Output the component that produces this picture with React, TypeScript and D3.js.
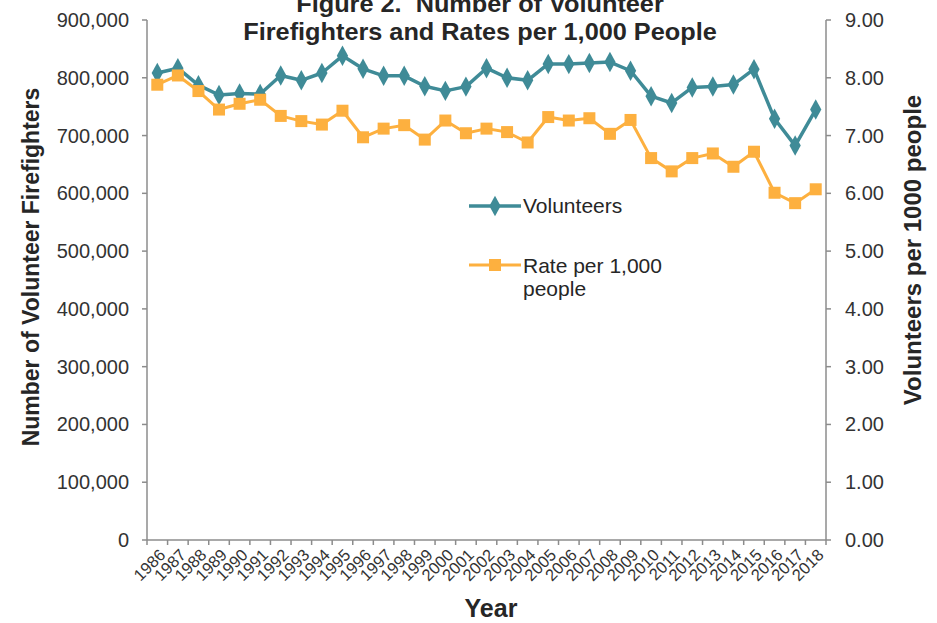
import React from "react";
import * as d3 from "d3";

const years: string[] = [
  "1986","1987","1988","1989","1990","1991","1992","1993","1994","1995","1996",
  "1997","1998","1999","2000","2001","2002","2003","2004","2005","2006","2007",
  "2008","2009","2010","2011","2012","2013","2014","2015","2016","2017","2018",
];

const volunteers: number[] = [
  808200, 816600, 787250, 770200, 772650, 771800, 804000, 795600, 808250, 838000, 815500,
  803350, 803350, 785250, 777350, 784700, 816600, 800050, 795600, 823950, 823650, 825450,
  827150, 812150, 768150, 756400, 783300, 785000, 788250, 814850, 729000, 682600, 745000,
];

const ratePer1000: number[] = [
  7.88, 8.04, 7.77, 7.45, 7.55, 7.62, 7.34, 7.25, 7.19, 7.43, 6.97,
  7.12, 7.18, 6.93, 7.26, 7.04, 7.12, 7.06, 6.88, 7.32, 7.26, 7.30,
  7.03, 7.27, 6.61, 6.38, 6.61, 6.69, 6.46, 6.72, 6.01, 5.83, 6.07,
];

const leftTicks: number[] = [0, 100000, 200000, 300000, 400000, 500000, 600000, 700000, 800000, 900000];
const rightTicks: number[] = [0, 1, 2, 3, 4, 5, 6, 7, 8, 9];

const titleLines: string[] = ["Figure 2.\u00a0 Number of Volunteer", "Firefighters and Rates per 1,000 People"];
const leftTitle = "Number of Volunteer Firefighters";
const rightTitle = "Volunteers per 1000 people";
const xTitle = "Year";
const legendLabels: string[][] = [["Volunteers"], ["Rate per 1,000", "people"]];

const TEAL = "#3f8b97";
const ORANGE = "#fdb03f";
const AXIS = "#8c8c8c";
const TEXT = "#262626";
const FONT = "Liberation Sans, Arial, sans-serif";

export default function App() {
  const left = 147, right = 826, top = 20, bottom = 540;
  const x = d3.scaleBand<string>().domain(years).range([left, right]).padding(0);
  const yL = d3.scaleLinear().domain([0, 900000]).range([bottom, top]);
  const yR = d3.scaleLinear().domain([0, 9]).range([bottom, top]);
  const cx = (yr: string) => (x(yr) as number) + x.bandwidth() / 2;

  const volLine = d3.line<number>().x((_, i) => cx(years[i])).y((d) => yL(d))(volunteers) || "";
  const rateLine = d3.line<number>().x((_, i) => cx(years[i])).y((d) => yR(d))(ratePer1000) || "";

  const fmtL = d3.format(",");
  const fmtR = d3.format(".2f");
  const diamond = d3.symbol().type(d3.symbolDiamond).size(100)() || "";

  const boundaries = years.map((y) => x(y) as number).concat([right]);

  return (
    <svg width={937} height={623} style={{ position: "absolute", left: 0, top: 0, background: "#fff" }} fontFamily={FONT}>
      {/* title */}
      <g fontWeight="bold" fontSize={23} fill={TEXT} textAnchor="middle" transform="translate(480,0) scale(1.1,1)">
        <text x={0} y={12}>{titleLines[0]}</text>
        <text x={0} y={40}>{titleLines[1]}</text>
      </g>

      {/* axes */}
      <g stroke={AXIS} strokeWidth={1.5} fill="none">
        <line x1={left} x2={left} y1={top} y2={bottom} />
        <line x1={right} x2={right} y1={top} y2={bottom} />
        <line x1={left} x2={right} y1={bottom} y2={bottom} />
        {leftTicks.map((t) => (
          <line key={"lt" + t} x1={left - 5} x2={left} y1={yL(t)} y2={yL(t)} />
        ))}
        {rightTicks.map((t) => (
          <line key={"rt" + t} x1={right} x2={right + 5} y1={yR(t)} y2={yR(t)} />
        ))}
        {boundaries.map((b, i) => (
          <line key={"xt" + i} x1={b} x2={b} y1={bottom} y2={bottom + 5} />
        ))}
      </g>

      {/* tick labels */}
      <g fontSize={20} fill="#333">
        {leftTicks.map((t) => (
          <text key={"ll" + t} x={129} y={yL(t)} dy="0.35em" textAnchor="end">{fmtL(t)}</text>
        ))}
        {rightTicks.map((t) => (
          <text key={"rl" + t} x={845} y={yR(t)} dy="0.35em" textAnchor="start">{fmtR(t)}</text>
        ))}
      </g>
      <g fontSize={16.5} fill="#333">
        {years.map((yr) => (
          <text key={"xl" + yr} transform={`translate(${cx(yr) + 5},${bottom + 12}) rotate(-45)`} textAnchor="end" dy="0.35em">{yr}</text>
        ))}
      </g>

      {/* axis titles */}
      <g fontWeight="bold" fill={TEXT} textAnchor="middle">
        <text transform={`translate(39,267) rotate(-90)`} fontSize={23}>{leftTitle}</text>
        <text transform={`translate(921,250) rotate(-90)`} fontSize={24}>{rightTitle}</text>
        <text x={491} y={617} fontSize={25}>{xTitle}</text>
      </g>

      {/* series */}
      <path d={volLine} fill="none" stroke={TEAL} strokeWidth={3.5} strokeLinejoin="round" />
      {volunteers.map((v, i) => (
        <path key={"vm" + i} d={diamond} transform={`translate(${cx(years[i])},${yL(v)}) scale(1.05,1.1)`} fill={TEAL} />
      ))}
      <path d={rateLine} fill="none" stroke={ORANGE} strokeWidth={3} strokeLinejoin="round" />
      {ratePer1000.map((v, i) => (
        <rect key={"rm" + i} x={cx(years[i]) - 6} y={yR(v) - 6} width={12} height={12} fill={ORANGE} />
      ))}

      {/* legend */}
      <g>
        <line x1={469} x2={521} y1={206} y2={206} stroke={TEAL} strokeWidth={3.5} />
        <path d={diamond} transform="translate(495,206) scale(1.05,1.1)" fill={TEAL} />
        <text x={523} y={213} fontSize={21} fill={TEXT}>{legendLabels[0][0]}</text>
        <line x1={469} x2={521} y1={265} y2={265} stroke={ORANGE} strokeWidth={3} />
        <rect x={489} y={259} width={12} height={12} fill={ORANGE} />
        <text x={523} y={273} fontSize={21} fill={TEXT}>{legendLabels[1][0]}</text>
        <text x={523} y={296} fontSize={21} fill={TEXT}>{legendLabels[1][1]}</text>
      </g>
    </svg>
  );
}
